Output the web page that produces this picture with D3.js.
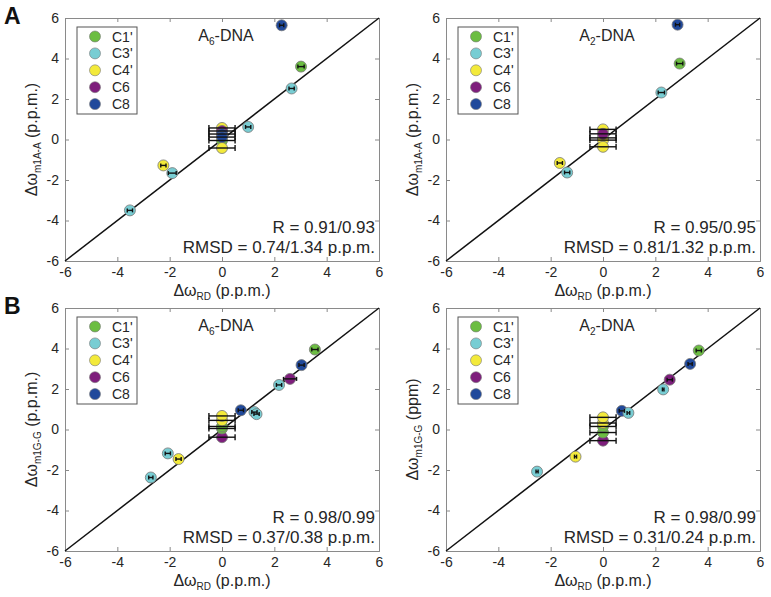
<!DOCTYPE html>
<html><head><meta charset="utf-8">
<script src="https://cdn.jsdelivr.net/npm/d3@7"></script>
<style>
body{margin:0;background:#fff;}
svg{display:block;font-family:"Liberation Sans",Arial,sans-serif;}
</style></head>
<body><svg id="chart" width="771" height="597"></svg>
<script>
// ---- data ----
const categories = ["C1'", "C3'", "C4'", "C6", "C8"];
const catColors = ["#6cbd42", "#78cdd3", "#f3ea3a", "#7e1e7c", "#20499b"];
const tickValues = [-6, -4, -2, 0, 2, 4, 6];

// [category, Δω_RD, Δω_modified, x error]
const a6m1A = [
  ["C8", 2.28, 5.64, 0.08], ["C1'", 3.02, 3.6, 0.12], ["C3'", 2.66, 2.52, 0.1],
  ["C3'", 1.0, 0.62, 0.1], ["C4'", -2.24, -1.28, 0.1], ["C3'", -1.9, -1.66, 0.15],
  ["C3'", -3.52, -3.5, 0.1],
  ["C1'", 0.0, -0.05, 0.5], ["C4'", 0.0, 0.57, 0.5], ["C4'", 0.0, -0.42, 0.5],
  ["C6", 0.0, 0.42, 0.5], ["C8", 0.0, 0.27, 0.5], ["C8", 0.0, 0.12, 0.5]
];
const a2m1A = [
  ["C8", 2.85, 5.67, 0.08], ["C1'", 2.93, 3.75, 0.12], ["C3'", 2.23, 2.32, 0.12],
  ["C4'", -1.65, -1.16, 0.1], ["C3'", -1.37, -1.63, 0.1],
  ["C1'", 0.0, 0.08, 0.5], ["C4'", 0.0, 0.5, 0.5], ["C4'", 0.0, -0.03, 0.5],
  ["C4'", 0.0, -0.36, 0.5], ["C6", 0.0, 0.28, 0.5]
];
const a6m1G = [
  ["C1'", 3.55, 3.95, 0.12], ["C8", 3.04, 3.18, 0.1], ["C6", 2.6, 2.5, 0.25],
  ["C3'", 2.18, 2.2, 0.1], ["C8", 0.72, 0.95, 0.1], ["C3'", 1.24, 0.86, 0.1],
  ["C3'", 1.32, 0.76, 0.1], ["C3'", -2.07, -1.18, 0.1], ["C4'", -1.66, -1.46, 0.1],
  ["C3'", -2.72, -2.37, 0.08],
  ["C6", 0.0, -0.38, 0.5], ["C1'", 0.0, 0.05, 0.5], ["C1'", 0.0, 0.15, 0.5],
  ["C4'", 0.0, 0.45, 0.5], ["C4'", 0.0, 0.67, 0.5]
];
const a2m1G = [
  ["C1'", 3.66, 3.9, 0.1], ["C8", 3.33, 3.24, 0.08], ["C6", 2.55, 2.46, 0.1],
  ["C3'", 2.3, 1.98, 0.03], ["C8", 0.72, 0.92, 0.1], ["C3'", 0.97, 0.82, 0.05],
  ["C4'", -1.05, -1.34, 0.04], ["C3'", -2.52, -2.08, 0.04],
  ["C6", 0.0, -0.55, 0.5], ["C1'", 0.0, -0.15, 0.5], ["C1'", 0.0, 0.15, 0.5],
  ["C4'", 0.0, 0.32, 0.5], ["C4'", 0.0, 0.6, 0.5]
];

const panels = [
  {data: a6m1A, left: 65, top: 18, letter: "A", title: ["A", "6", "-DNA"],
   ysub: "m1A-A", yunit: " (p.p.m.)", r: "R = 0.91/0.93", rmsd: "RMSD = 0.74/1.34 p.p.m."},
  {data: a2m1A, left: 446, top: 18, letter: null, title: ["A", "2", "-DNA"],
   ysub: "m1A-A", yunit: " (p.p.m.)", r: "R = 0.95/0.95", rmsd: "RMSD = 0.81/1.32 p.p.m."},
  {data: a6m1G, left: 65, top: 308, letter: "B", title: ["A", "6", "-DNA"],
   ysub: "m1G-G", yunit: " (p.p.m.)", r: "R = 0.98/0.99", rmsd: "RMSD = 0.37/0.38 p.p.m."},
  {data: a2m1G, left: 446, top: 308, letter: null, title: ["A", "2", "-DNA"],
   ysub: "m1G-G", yunit: " (ppm)", r: "R = 0.98/0.99", rmsd: "RMSD = 0.31/0.24 p.p.m."}
];

const W = 314, H = 243;
const textCol = "#262626", boxCol = "#8a8a8a";
const color = d3.scaleOrdinal().domain(categories).range(catColors);
const svg = d3.select("#chart");
const fmt = d => String(d);

panels.forEach(p => {
  const g = svg.append("g").attr("transform", `translate(${p.left},${p.top})`);
  const x = d3.scaleLinear().domain([-6, 6]).range([0, W]);
  const y = d3.scaleLinear().domain([-6, 6]).range([H, 0]);

  const styleAxis = a => {
    a.select(".domain").attr("stroke", boxCol).attr("stroke-width", 1);
    a.selectAll(".tick line").attr("stroke", boxCol);
    a.selectAll(".tick text").attr("fill", textCol).style("font-size", "14px")
      .style("font-family", "Liberation Sans, Arial, sans-serif");
  };
  g.append("g").attr("transform", `translate(0,${H})`)
    .call(d3.axisBottom(x).tickValues(tickValues).tickSize(-4).tickPadding(6).tickFormat(fmt))
    .call(styleAxis);
  g.append("g")
    .call(d3.axisLeft(y).tickValues(tickValues).tickSize(-4).tickPadding(6).tickFormat(fmt))
    .call(styleAxis);
  g.append("g")
    .call(d3.axisTop(x).tickValues(tickValues).tickSize(-4).tickFormat(""))
    .call(styleAxis);
  g.append("g").attr("transform", `translate(${W},0)`)
    .call(d3.axisRight(y).tickValues(tickValues).tickSize(-4).tickFormat(""))
    .call(styleAxis);

  // diagonal
  g.append("line")
    .attr("x1", x(-6)).attr("y1", y(-6)).attr("x2", x(6)).attr("y2", y(6))
    .attr("stroke", "#111").attr("stroke-width", 1.5);

  // points
  g.selectAll("circle.pt").data(p.data).join("circle").attr("class", "pt")
    .attr("cx", d => x(d[1])).attr("cy", d => y(d[2])).attr("r", 5.5)
    .attr("fill", d => color(d[0])).attr("stroke", "#777").attr("stroke-width", 0.8);

  // error bars
  const eb = g.append("g").attr("stroke", "#111").attr("stroke-width", 1.4);
  p.data.forEach(d => {
    const x0 = x(d[1] - d[3]), x1 = x(d[1] + d[3]), yy = y(d[2]);
    const cap = d[3] >= 0.3 ? 3 : 2;
    eb.append("line").attr("x1", x0).attr("x2", x1).attr("y1", yy).attr("y2", yy);
    eb.append("line").attr("x1", x0).attr("x2", x0).attr("y1", yy - cap).attr("y2", yy + cap);
    eb.append("line").attr("x1", x1).attr("x2", x1).attr("y1", yy - cap).attr("y2", yy + cap);
  });

  // legend
  const lg = g.append("g").attr("transform", "translate(12,9)");
  lg.append("rect").attr("width", 60).attr("height", 87)
    .attr("fill", "#fff").attr("stroke", "#555").attr("stroke-width", 1);
  categories.forEach((c, i) => {
    lg.append("circle").attr("cx", 18).attr("cy", 9.5 + i * 16.9).attr("r", 5.5)
      .attr("fill", color(c)).attr("stroke", "#777").attr("stroke-width", 0.6);
    lg.append("text").attr("x", 35).attr("y", 14.5 + i * 16.9)
      .attr("fill", textCol).style("font-size", "14px").text(c);
  });

  // title
  const t = g.append("text").attr("x", W / 2 + 4).attr("y", 23).attr("text-anchor", "middle")
    .attr("fill", textCol).style("font-size", "16px");
  t.append("tspan").text(p.title[0]);
  t.append("tspan").attr("dy", 4).style("font-size", "10px").text(p.title[1]);
  t.append("tspan").attr("dy", -4).text(p.title[2]);

  // stats
  g.append("text").attr("x", W - 4).attr("y", H - 28).attr("text-anchor", "end")
    .attr("fill", textCol).style("font-size", "17px").text(p.r);
  g.append("text").attr("x", W - 4).attr("y", H - 8).attr("text-anchor", "end")
    .attr("fill", textCol).style("font-size", "17px").text(p.rmsd);

  // x label
  const xl = g.append("text").attr("x", W / 2).attr("y", H + 35).attr("text-anchor", "middle")
    .attr("fill", textCol).style("font-size", "16px");
  xl.append("tspan").text("Δω");
  xl.append("tspan").attr("dy", 4).style("font-size", "10px").text("RD");
  xl.append("tspan").attr("dy", -4).text(" (p.p.m.)");

  // y label
  const yl = g.append("text")
    .attr("transform", `translate(-28,${H / 2}) rotate(-90)`).attr("text-anchor", "middle")
    .attr("fill", textCol).style("font-size", "16px");
  yl.append("tspan").text("Δω");
  yl.append("tspan").attr("dy", 4).style("font-size", "10px").text(p.ysub);
  yl.append("tspan").attr("dy", -4).text(p.yunit);

  if (p.letter) {
    svg.append("text").attr("x", 4).attr("y", p.top + 6).attr("fill", "#111")
      .style("font-size", "23px").style("font-weight", "bold").text(p.letter);
  }
});
</script></body></html>
